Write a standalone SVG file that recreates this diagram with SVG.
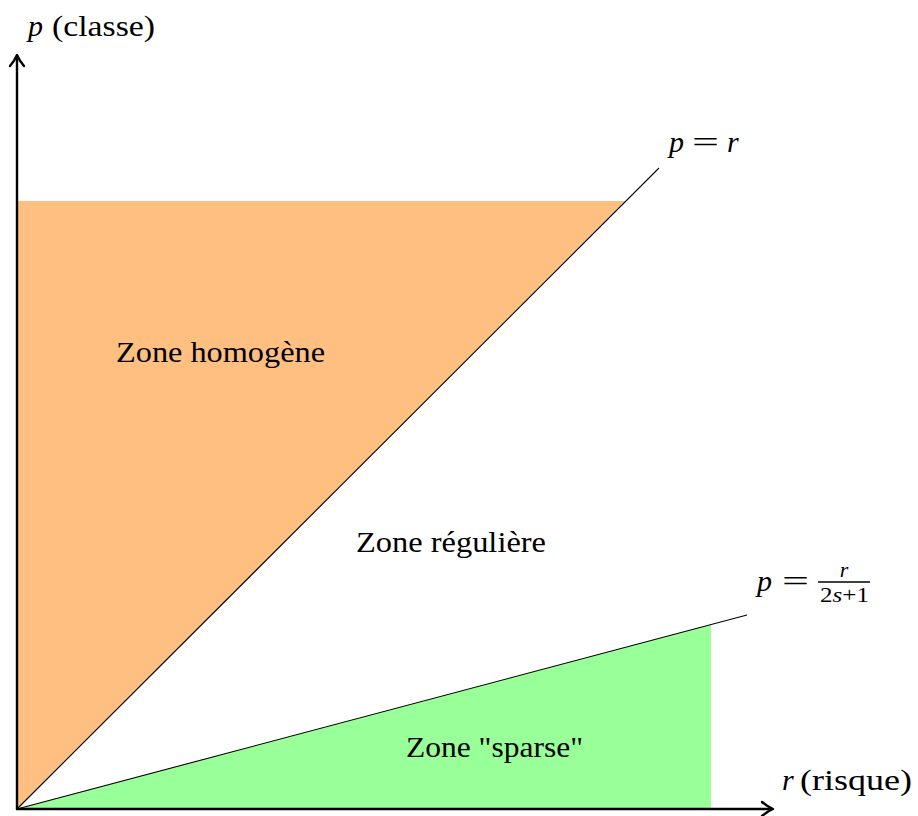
<svg xmlns="http://www.w3.org/2000/svg" width="918" height="816" viewBox="0 0 918 816">
<style>
.t{font-family:"Liberation Serif","Times New Roman",serif;font-size:30px;fill:#000}
.i{font-style:italic}
.s{font-size:22px}
.ax{fill:none;stroke:#000;stroke-width:2.4;stroke-linecap:round;stroke-linejoin:round}
.ln{fill:none;stroke:#000;stroke-width:1.1}
</style>
<rect width="918" height="816" fill="#fff"/>
<g id="zone-homogene">
<polygon points="17,809 17,201 626,201" fill="#FFBF80"/>
<text class="t" x="116" y="362" textLength="209" lengthAdjust="spacingAndGlyphs">Zone homogène</text>
</g>
<g id="zone-sparse">
<polygon points="17,809 711,624.6 711,809" fill="#99FF99"/>
<text class="t" x="406" y="757" textLength="177" lengthAdjust="spacingAndGlyphs">Zone "sparse"</text>
</g>
<g id="zone-reguliere">
<text class="t" x="356" y="552" textLength="190" lengthAdjust="spacingAndGlyphs">Zone régulière</text>
</g>
<g id="connectors">
<line class="ln" x1="17" y1="809" x2="659" y2="168"/>
<line class="ln" x1="17" y1="809" x2="747" y2="615"/>
<path class="ax" d="M17,809 V56"/>
<path class="ax" d="M17,809 H771"/>
<path class="ax" d="M10,66 Q15,60 17,55 Q19,60 24,66" stroke-width="2"/>
<path class="ax" d="M762,802 Q768,807 773,809 Q768,811 762,816" stroke-width="2"/>
</g>
<g id="axis-y-label">
<text class="t i" x="28" y="36">p</text>
<text class="t" x="52" y="36" textLength="103" lengthAdjust="spacingAndGlyphs">(classe)</text>
</g>
<g id="axis-x-label">
<text class="t i" x="782" y="790">r</text>
<text class="t" x="800" y="790" textLength="112" lengthAdjust="spacingAndGlyphs">(risque)</text>
</g>
<g id="label-p-eq-r">
<text class="t i" x="669" y="152">p</text>
<text class="t" x="692" y="152" textLength="27" lengthAdjust="spacingAndGlyphs">=</text>
<text class="t i" x="727" y="152">r</text>
</g>
<g id="label-p-eq-frac">
<text class="t i" x="757" y="591">p</text>
<text class="t" x="782" y="591" textLength="27" lengthAdjust="spacingAndGlyphs">=</text>
<text class="t i s" x="844" y="577" text-anchor="middle">r</text>
<line x1="818" y1="582" x2="870" y2="582" stroke="#000" stroke-width="1.3"/>
<text class="t s" x="820" y="602" textLength="49" lengthAdjust="spacingAndGlyphs">2<tspan class="i">s</tspan>+1</text>
</g>
</svg>
